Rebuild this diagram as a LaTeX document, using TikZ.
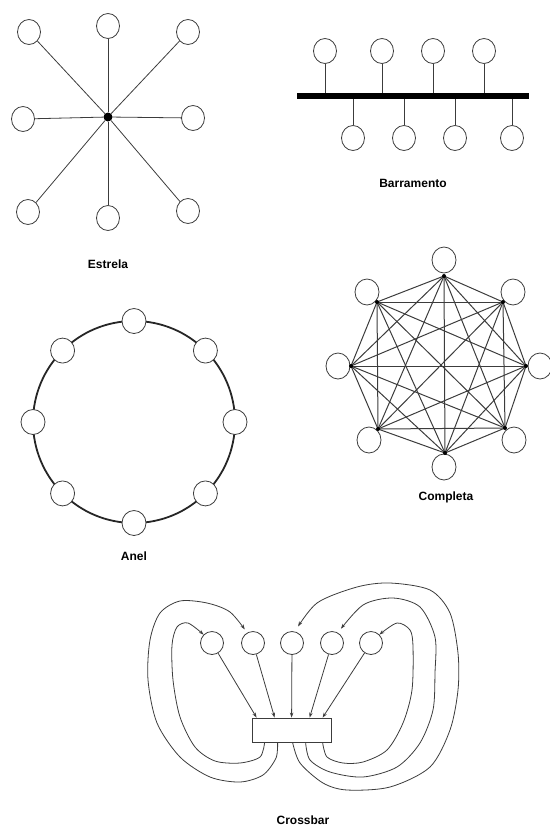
\documentclass[tikz,border=0pt]{standalone}
\usepackage{fontspec}
\setmainfont{Liberation Sans}
\usepackage{tikz}
\usetikzlibrary{arrows.meta,shapes.geometric,calc}
\definecolor{wiregray}{RGB}{60,60,60}

\begin{document}
\begin{tikzpicture}[x=1pt, y=-1pt,
    station/.style={draw=wiregray, line width=0.8pt, ellipse, fill=white, inner sep=0pt, minimum width=23pt, minimum height=25pt},
    caption/.style={font=\bfseries\fontsize{12}{13}\selectfont},
    wire/.style={draw=wiregray, line width=0.8pt},
    feed/.style={wire, -{Stealth[length=5pt, width=3.5pt]}}]
    \useasboundingbox (0,0) rectangle (549,830);

    % Estrela
    \node[circle, fill=black, inner sep=0pt, minimum size=9pt] (hub) at (108,117) {};
    \foreach \n/\px/\py in {1/29/32, 2/108/26, 3/188/32, 4/193/118, 5/188/211, 6/108/218, 7/28/212, 8/23/119} {
        \node[station] (s\n) at (\px,\py) {};
        \draw[wire] (hub) -- (s\n);
    }
    \node[caption] (estrela) at (108,264) {Estrela};

    % Barramento
    \coordinate (busL) at (297,96);
    \coordinate (busR) at (529,96);
    \foreach \n/\px in {1/325, 2/382, 3/433, 4/484} {
        \node[station] (bt\n) at (\px,51) {};
        \draw[wire] (bt\n) -- (bt\n |- busL);
    }
    \foreach \n/\px in {1/353, 2/404, 3/455, 4/512} {
        \node[station] (bb\n) at (\px,138) {};
        \draw[wire] (bb\n) -- (bb\n |- busL);
    }
    \draw[line width=6.5pt] (busL) -- (busR);
    \node[caption] (barramento) at (413,183) {Barramento};

    % Anel
    \coordinate (ringc) at (134,422);
    \draw[line width=1.8pt, black!85] (ringc) circle (101pt);
    \foreach \n/\a in {1/90, 2/45, 3/0, 4/-45, 5/-90, 6/-135, 7/180, 8/135}
        \node[station, minimum width=24pt] (r\n) at ($(ringc)+(\a:101pt)$) {};
    \node[caption] (anel) at (134,556) {Anel};

    % Completa
    \foreach \n/\vx/\vy/\nx/\ny in {1/444/276/444/260, 2/503/302/513/292, 3/526/366/540/366, 4/505/428/514/440,
                                    5/445/453/444/467, 6/378/429/369/440, 7/351/366/338/366, 8/377/302/367/292} {
        \coordinate (v\n) at (\vx,\vy);
        \node[station, minimum width=24pt, minimum height=26pt] (c\n) at (\nx,\ny) {};
    }
    \foreach \i in {1,...,7} {
        \pgfmathtruncatemacro\k{\i+1}
        \foreach \j in {\k,...,8}
            \draw[wire, line width=1pt] (v\i) -- (v\j);
    }
    \foreach \n in {1,...,8}
        \fill (v\n) circle (2pt);
    \node[caption] (completa) at (446,497) {Completa};

    % Crossbar
    \foreach \n/\px in {1/212, 2/253, 3/292, 4/332, 5/371}
        \node[station, minimum height=23pt] (x\n) at (\px,643) {};
    \node[draw=wiregray, line width=0.8pt, rectangle, minimum width=79pt, minimum height=24pt, inner sep=0pt] (bx) at (291.5,730) {};
    \foreach \n/\dx in {1/5, 2/23, 3/40, 4/58, 5/71}
        \draw[feed] (x\n) -- ([xshift=\dx pt]bx.north west);
    \draw[feed] plot[smooth] coordinates {([xshift=13pt]bx.south west) (260,757) (240,763) (215,761) (195,747)
        (180,717) (173,680) (172,645) (177,627) (188,623) (x1.135)};
    \draw[feed, shorten >=4pt] plot[smooth] coordinates {([xshift=26pt]bx.south west) (276,758) (263,775) (240,782)
        (210,777) (180,757) (157,723) (148,680) (150,640) (160,613) (180,601) (207,603) (230,612) (x2.120)};
    \draw[feed, shorten >=6pt] plot[smooth] coordinates {([xshift=41pt]bx.south west) (300,763) (323,783) (347,790)
        (390,787) (430,767) (450,730) (458,690) (458,653) (450,613) (430,590) (390,583) (357,587) (317,603) (x3.75)};
    \draw[feed, shorten >=5pt] plot[smooth] coordinates {([xshift=54pt]bx.south west) (310,760) (330,772) (363,777)
        (397,767) (420,743) (433,710) (435,673) (435,637) (420,607) (393,598) (363,605) (x4.60)};
    \draw[feed] plot[smooth] coordinates {([xshift=71pt]bx.south west) (327,757) (343,763) (363,762) (387,750)
        (403,723) (412,690) (413,647) (410,630) (397,623) (x5.45)};
    \node[caption] (crossbar) at (303,820) {Crossbar};
\end{tikzpicture}
\end{document}
